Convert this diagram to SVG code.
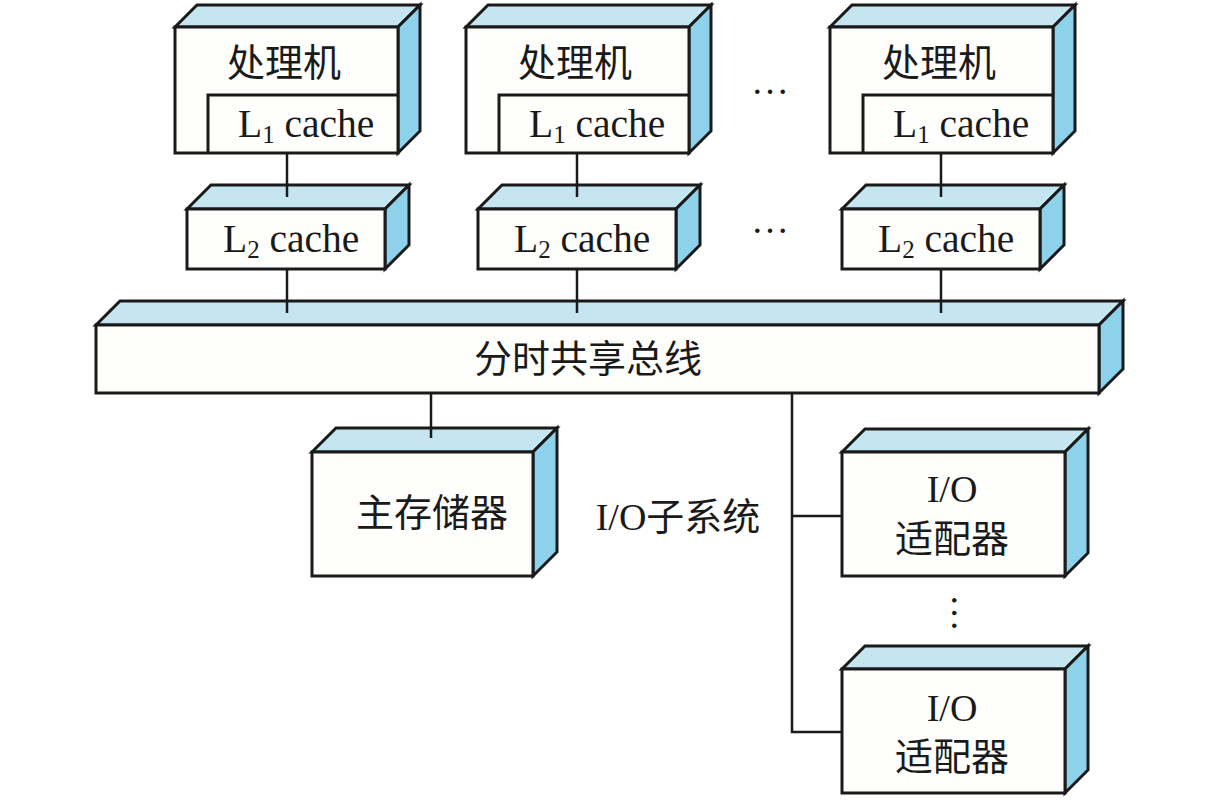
<svg xmlns="http://www.w3.org/2000/svg" width="1208" height="806" viewBox="0 0 1208 806">
<style>
.front{fill:#FEFEFC;stroke:#1a1a1a;stroke-width:3;stroke-linejoin:miter}
.top{fill:#C5E6F0;stroke:#1a1a1a;stroke-width:3;stroke-linejoin:miter}
.side{fill:#8DD2EA;stroke:#1a1a1a;stroke-width:3;stroke-linejoin:miter}
.inner{fill:none;stroke:#1a1a1a;stroke-width:3}
.conn{fill:none;stroke:#1a1a1a;stroke-width:2.5}
text{font-family:"Liberation Serif","Noto Sans CJK SC",serif;font-size:38px;fill:#1a1a1a}
.c{text-anchor:middle}
.lat{font-size:39.5px}
.sub{font-size:25px}
</style>
<rect width="1208" height="806" fill="#ffffff"/>

<g id="proc1">
<polygon class="top" points="175,27 197,5 420,5 398,27"/>
<polygon class="side" points="398,27 420,5 420,131 398,153"/>
<rect class="front" x="175" y="27" width="223" height="126"/>
<polyline class="inner" points="208,153 208,95 398,95"/>
<text class="c" x="284" y="76">处理机</text>
<text class="lat" x="238" y="137">L<tspan class="sub" dy="6">1</tspan><tspan dy="-6"> cache</tspan></text>
</g>
<g id="proc2">
<polygon class="top" points="466,27 488,5 711,5 689,27"/>
<polygon class="side" points="689,27 711,5 711,131 689,153"/>
<rect class="front" x="466" y="27" width="223" height="126"/>
<polyline class="inner" points="499,153 499,95 689,95"/>
<text class="c" x="575" y="76">处理机</text>
<text class="lat" x="529" y="137">L<tspan class="sub" dy="6">1</tspan><tspan dy="-6"> cache</tspan></text>
</g>
<g id="proc3">
<polygon class="top" points="830,27 852,5 1075,5 1053,27"/>
<polygon class="side" points="1053,27 1075,5 1075,131 1053,153"/>
<rect class="front" x="830" y="27" width="223" height="126"/>
<polyline class="inner" points="863,153 863,95 1053,95"/>
<text class="c" x="939" y="76">处理机</text>
<text class="lat" x="893" y="137">L<tspan class="sub" dy="6">1</tspan><tspan dy="-6"> cache</tspan></text>
</g>

<g id="l2a">
<polygon class="top" points="187,209 211,185 409,185 385,209"/>
<polygon class="side" points="385,209 409,185 409,245 385,269"/>
<rect class="front" x="187" y="209" width="198" height="60"/>
<text class="lat" x="223" y="252">L<tspan class="sub" dy="6">2</tspan><tspan dy="-6"> cache</tspan></text>
</g>
<g id="l2b">
<polygon class="top" points="478,209 502,185 700,185 676,209"/>
<polygon class="side" points="676,209 700,185 700,245 676,269"/>
<rect class="front" x="478" y="209" width="198" height="60"/>
<text class="lat" x="514" y="252">L<tspan class="sub" dy="6">2</tspan><tspan dy="-6"> cache</tspan></text>
</g>
<g id="l2c">
<polygon class="top" points="842,209 866,185 1064,185 1040,209"/>
<polygon class="side" points="1040,209 1064,185 1064,245 1040,269"/>
<rect class="front" x="842" y="209" width="198" height="60"/>
<text class="lat" x="878" y="252">L<tspan class="sub" dy="6">2</tspan><tspan dy="-6"> cache</tspan></text>
</g>

<g id="bus">
<polygon class="top" points="96,325 120,301 1123,301 1099,325"/>
<polygon class="side" points="1099,325 1123,301 1123,369 1099,393"/>
<rect class="front" x="96" y="325" width="1003" height="68"/>
<text class="c" x="588" y="372">分时共享总线</text>
</g>

<g id="memory">
<polygon class="top" points="312,452 336,428 557,428 533,452"/>
<polygon class="side" points="533,452 557,428 557,552 533,576"/>
<rect class="front" x="312" y="452" width="221" height="124"/>
<text class="c" x="432" y="526">主存储器</text>
</g>

<g id="io1">
<polygon class="top" points="842,452 865,429 1088,429 1065,452"/>
<polygon class="side" points="1065,452 1088,429 1088,553 1065,576"/>
<rect class="front" x="842" y="452" width="223" height="124"/>
<text class="c" x="952" y="502">I/O</text>
<text class="c" x="952" y="552">适配器</text>
</g>
<g id="io2">
<polygon class="top" points="842,669 865,646 1088,646 1065,669"/>
<polygon class="side" points="1065,669 1088,646 1088,770 1065,793"/>
<rect class="front" x="842" y="669" width="223" height="124"/>
<text class="c" x="952" y="721">I/O</text>
<text class="c" x="952" y="770">适配器</text>
</g>

<g id="connectors">
<line class="conn" x1="287" y1="153" x2="287" y2="197"/>
<line class="conn" x1="577" y1="153" x2="577" y2="197"/>
<line class="conn" x1="941" y1="153" x2="941" y2="197"/>
<line class="conn" x1="287" y1="269" x2="287" y2="313"/>
<line class="conn" x1="577" y1="269" x2="577" y2="313"/>
<line class="conn" x1="941" y1="269" x2="941" y2="313"/>
<line class="conn" x1="431" y1="393" x2="431" y2="438"/>
<polyline class="conn" points="792,393 792,732 842,732"/>
<line class="conn" x1="792" y1="516" x2="842" y2="516"/>
</g>

<g id="labels">
<text class="c" x="678" y="530">I/O子系统</text>
<text class="c" x="770" y="94">…</text>
<text class="c" x="770" y="233">…</text>
<text class="c" transform="translate(954,613) rotate(90)" x="0" y="2">…</text>
</g>
</svg>
